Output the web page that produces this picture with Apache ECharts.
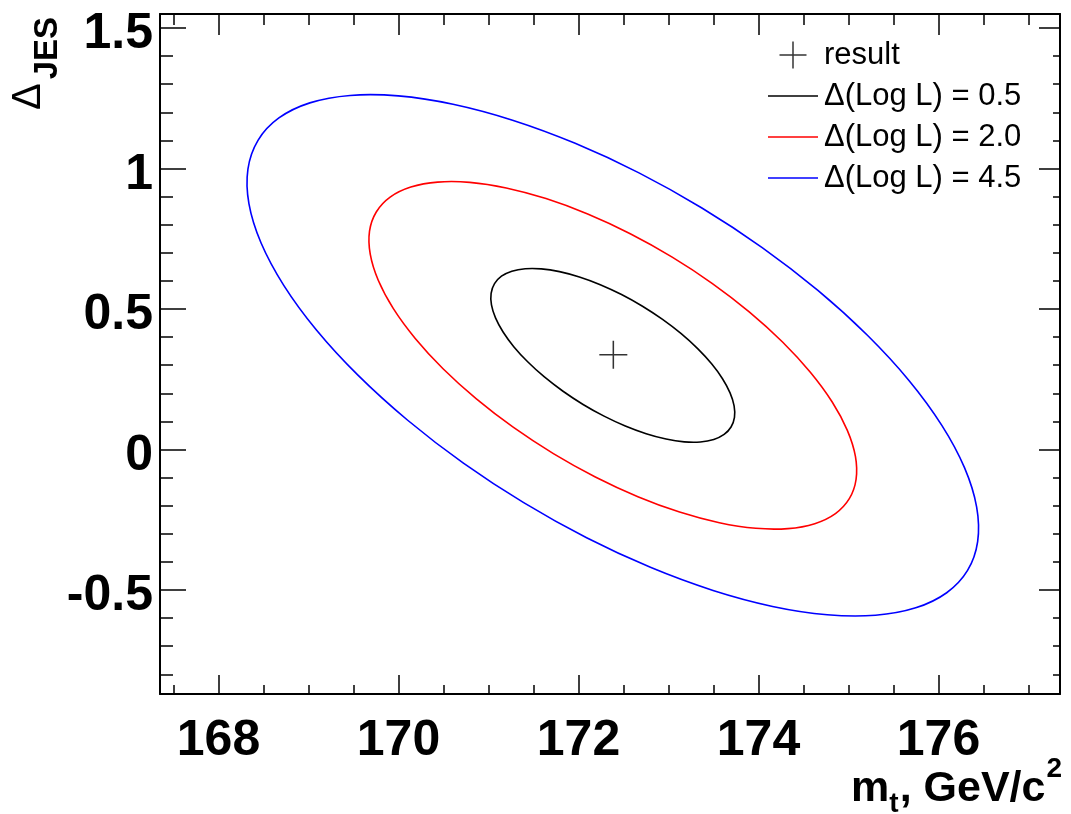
<!DOCTYPE html>
<html><head><meta charset="utf-8">
<script src="https://cdn.jsdelivr.net/npm/echarts@6/dist/echarts.min.js"></script>
<style>html,body{margin:0;padding:0;background:#fff}#c{width:1071px;height:814px}</style>
</head><body><div id="c"></div>
<script>
// ---------- data ----------
const xMajorTicks = [168, 170, 172, 174, 176];
const xMinorTicks = [167.5,168,168.5,169,169.5,170,170.5,171,171.5,172,172.5,173,173.5,174,174.5,175,175.5,176,176.5,177];
const yMajorTicks = [-0.5, 0, 0.5, 1, 1.5];
const yMinorTicks = [-0.8,-0.7,-0.6,-0.5,-0.4,-0.3,-0.2,-0.1,0,0.1,0.2,0.3,0.4,0.5,0.6,0.7,0.8,0.9,1.0,1.1,1.2,1.3,1.4,1.5];

const legendNames = ['result', '\u0394(Log L) = 0.5', '\u0394(Log L) = 2.0', '\u0394(Log L) = 4.5'];
const resultPoint = [[172.387, 0.337]];

// contour points (closed loops)
const contour05 = [
 [173.695,0.0801],[173.618,0.0536],[173.503,0.0357],[173.354,0.0269],[173.175,0.0274],[172.973,0.0373],
 [172.752,0.0563],[172.520,0.0837],[172.284,0.1188],[172.051,0.1604],[171.828,0.2074],[171.621,0.2582],
 [171.438,0.3114],[171.283,0.3653],[171.162,0.4183],[171.078,0.4687],[171.033,0.5151],[171.029,0.5561],
 [171.067,0.5903],[171.144,0.6168],[171.259,0.6347],[171.408,0.6435],[171.587,0.6430],[171.789,0.6331],
 [172.010,0.6141],[172.242,0.5867],[172.478,0.5516],[172.711,0.5100],[172.934,0.4630],[173.141,0.4122],
 [173.324,0.3590],[173.479,0.3051],[173.600,0.2521],[173.684,0.2017],[173.729,0.1553],[173.733,0.1143]
];
const contour20 = [
 [175.009,-0.1750],[174.855,-0.2280],[174.625,-0.2638],[174.327,-0.2814],[173.970,-0.2804],[173.565,-0.2605],
 [173.123,-0.2226],[172.660,-0.1678],[172.187,-0.0976],[171.721,-0.0144],[171.274,0.0796],[170.862,0.1812],
 [170.495,0.2876],[170.186,0.3954],[169.943,0.5014],[169.775,0.6023],[169.686,0.6951],[169.678,0.7770],
 [169.753,0.8454],[169.907,0.8984],[170.137,0.9342],[170.435,0.9518],[170.792,0.9508],[171.197,0.9309],
 [171.639,0.8930],[172.102,0.8382],[172.575,0.7680],[173.041,0.6848],[173.488,0.5908],[173.900,0.4892],
 [174.267,0.3828],[174.576,0.2750],[174.819,0.1690],[174.987,0.0681],[175.077,-0.0247],[175.084,-0.1066]
];
const contour45 = [
 [176.323,-0.4301],[176.091,-0.5096],[175.747,-0.5633],[175.300,-0.5898],[174.764,-0.5881],[174.156,-0.5584],
 [173.495,-0.5016],[172.799,-0.4193],[172.090,-0.3141],[171.391,-0.1891],[170.721,-0.0483],[170.102,0.1042],
 [169.552,0.2638],[169.088,0.4255],[168.725,0.5844],[168.472,0.7358],[168.338,0.8750],[168.327,0.9979],
 [168.439,1.1005],[168.671,1.1800],[169.015,1.2337],[169.462,1.2602],[169.998,1.2585],[170.606,1.2288],
 [171.267,1.1720],[171.963,1.0897],[172.672,0.9845],[173.371,0.8595],[174.041,0.7187],[174.660,0.5662],
 [175.210,0.4066],[175.674,0.2450],[176.037,0.0860],[176.290,-0.0654],[176.424,-0.2046],[176.435,-0.3275]
];

// ---------- layout / style ----------
const X_MIN = 167.35, X_MAX = 177.35, Y_MIN = -0.87, Y_MAX = 1.55;
const SANS = '"Liberation Sans",Arial,Helvetica,sans-serif';
const crossPath = 'path://M0,9.45H20V10.55H0Z M9.45,0H10.55V20H9.45Z';
const lineIcon = 'path://M0,0H50V1.6H0Z';

function xAx(pos, ticks, len, line, labels) {
  return {
    type: 'value', position: pos, min: X_MIN, max: X_MAX, gridIndex: 0,
    axisLine: { show: line, onZero: false, lineStyle: { color: '#000', width: 2 } },
    axisTick: { show: true, inside: true, length: len, customValues: ticks, lineStyle: { color: '#000', width: 1.5 } },
    axisLabel: labels ? { show: true, customValues: ticks, margin: 22, color: '#000',
      fontFamily: SANS, fontWeight: 'bold', fontSize: 50 } : { show: false },
    splitLine: { show: false }, minorTick: { show: false }
  };
}
function yAx(pos, ticks, len, line, labels) {
  return {
    type: 'value', position: pos, min: Y_MIN, max: Y_MAX, gridIndex: 0,
    axisLine: { show: line, onZero: false, lineStyle: { color: '#000', width: 2 } },
    axisTick: { show: true, inside: true, length: len, customValues: ticks, lineStyle: { color: '#000', width: 1.5 } },
    axisLabel: labels ? { show: true, customValues: ticks, margin: 7, color: '#000',
      fontFamily: SANS, fontWeight: 'bold', fontSize: 50, verticalAlign: 'top', lineHeight: 13 } : { show: false },
    splitLine: { show: false }, minorTick: { show: false }
  };
}

const chart = echarts.init(document.getElementById('c'), null, { renderer: 'canvas' });

const mctx = document.createElement('canvas').getContext('2d');
function tw(t, f) { mctx.font = f; return mctx.measureText(t).width; }

// x title pieces, anchored from the right edge
const fMain = 'bold 43px ' + SANS, fSub = 'bold 28px ' + SANS;
const xr = 1062;
const w2 = tw('2', fSub), wG = tw(', GeV/c', fMain), wt = tw('t', fSub), wm = tw('m', fMain);
const x2 = xr - w2, xG = x2 - wG - 1, xt = xG - wt - 1, xm = xt - wm;
// y title pieces, anchored from the top end
const fDel = '40px ' + SANS, fJes = 'bold 33px ' + SANS;
const wJ = tw('JES', fJes), wD = tw('\u0394', fDel);
const yJ = 17 + wJ, yD = yJ + 4 + wD;

function txt(t, x, y, font, rot) {
  return { type: 'text', x: x, y: y, rotation: rot || 0, silent: true,
    style: { text: t, font: font, fill: '#000', align: 'left', verticalAlign: 'middle' } };
}

// closed smooth contour drawn through the cartesian coordinate system
const contourSeries = (name, data, color) => ({
  name: name, type: 'custom', coordinateSystem: 'cartesian2d', xAxisIndex: 0, yAxisIndex: 0,
  data: data, itemStyle: { color: color }, silent: true, clip: true,
  renderItem: function (params, api) {
    if (params.dataIndex !== 0) return null;
    const pts = data.map(function (p) { return api.coord(p); });
    return { type: 'polygon', shape: { points: pts, smooth: 0.35 },
      style: { fill: 'none', stroke: color, lineWidth: 1.6 } };
  }
});

chart.setOption({
  animation: false,
  backgroundColor: '#fff',
  grid: { left: 160, top: 14, width: 900, height: 680, containLabel: false },
  xAxis: [
    xAx('bottom', xMajorTicks, 19, true, true),
    xAx('bottom', xMinorTicks, 9, false, false),
    xAx('top', xMajorTicks, 21, true, false),
    xAx('top', xMinorTicks, 11, false, false)
  ],
  yAxis: [
    yAx('left', yMajorTicks, 26, true, true),
    yAx('left', yMinorTicks, 13, false, false),
    yAx('right', yMajorTicks, 21, true, false),
    yAx('right', yMinorTicks, 7, false, false)
  ],
  legend: {
    orient: 'vertical', left: 763, top: 32, itemWidth: 50, itemHeight: 27, itemGap: 5,
    selectedMode: false, symbolKeepAspect: true,
    data: [
      legendNames[0],
      { name: legendNames[1], icon: lineIcon },
      { name: legendNames[2], icon: lineIcon },
      { name: legendNames[3], icon: lineIcon }
    ],
    textStyle: { color: '#000', fontFamily: SANS, fontSize: 31, lineHeight: 27, padding: [9, 0, 0, 1] }
  },
  series: [
    { name: legendNames[0], type: 'scatter', data: resultPoint, symbol: crossPath, symbolSize: 28,
      symbolKeepAspect: true, itemStyle: { color: '#000' }, z: 5 },
    contourSeries(legendNames[1], contour05, '#000000'),
    contourSeries(legendNames[2], contour20, '#ff0000'),
    contourSeries(legendNames[3], contour45, '#0000ff')
  ],
  graphic: [
    txt('m', xm, 789, fMain),
    txt('t', xt, 804, fSub),
    txt(', GeV/c', xG, 789, fMain),
    txt('2', x2, 769, fSub),
    txt('\u0394', 29, yD, fDel, Math.PI / 2),
    txt('JES', 48, yJ, fJes, Math.PI / 2)
  ]
});
</script>
</body></html>
